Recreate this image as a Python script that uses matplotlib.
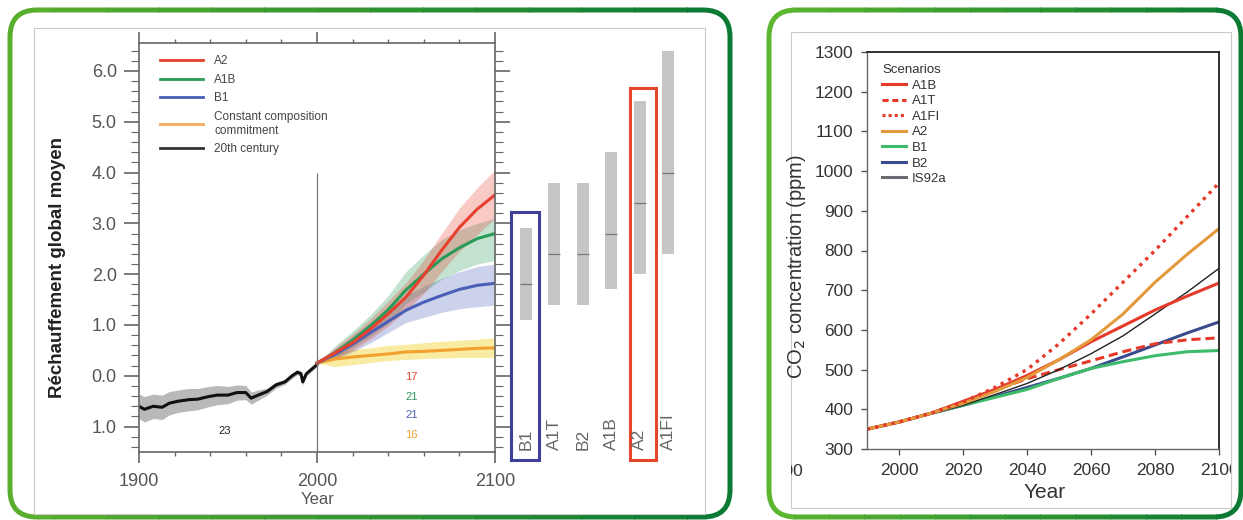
import numpy as np
import matplotlib.pyplot as plt
import matplotlib.transforms as mtransforms
from matplotlib.patches import FancyBboxPatch, Rectangle
from matplotlib.lines import Line2D

plt.rcParams['font.family'] = ['Liberation Sans', 'DejaVu Sans']

W, H = 1243, 520


def box(x0, y0, x1, y1):
    # pixel box (top-left origin) -> figure fraction
    return [x0 / W, 1 - y1 / H, (x1 - x0) / W, (y1 - y0) / H]


# ---------------- left panel: global mean warming ----------------
hist_years = [1900, 1903, 1908, 1913, 1917, 1922, 1928, 1933, 1939, 1944, 1950,
              1955, 1960, 1963, 1967, 1972, 1977, 1982, 1986, 1989, 1991, 1992,
              1994, 2000]
hist_mean = [-0.60, -0.66, -0.60, -0.62, -0.54, -0.50, -0.47, -0.46, -0.41, -0.38, -0.38,
             -0.33, -0.33, -0.44, -0.38, -0.31, -0.18, -0.12, 0.00, 0.07, 0.04, -0.12,
             0.04, 0.22]
hist_spread = [0.24, 0.25, 0.24, 0.24, 0.23, 0.22, 0.22, 0.21, 0.2, 0.19, 0.17,
               0.15, 0.14, 0.12, 0.1, 0.07, 0.06, 0.05, 0.05, 0.05, 0.05, 0.06,
               0.05, 0.04]

proj_years = [2000, 2010, 2020, 2030, 2040, 2050, 2060, 2070, 2080, 2090, 2100]
a2_mean = [0.25, 0.45, 0.65, 0.92, 1.22, 1.55, 1.98, 2.47, 2.92, 3.28, 3.56]
a2_lo = [0.25, 0.35, 0.50, 0.72, 0.98, 1.28, 1.62, 2.05, 2.45, 2.78, 3.10]
a2_hi = [0.25, 0.55, 0.82, 1.12, 1.47, 1.83, 2.28, 2.80, 3.30, 3.70, 4.05]
a1b_mean = [0.25, 0.45, 0.70, 0.98, 1.30, 1.69, 2.00, 2.30, 2.52, 2.70, 2.80]
a1b_lo = [0.25, 0.35, 0.55, 0.78, 1.03, 1.42, 1.65, 1.90, 2.07, 2.20, 2.27]
a1b_hi = [0.25, 0.58, 0.88, 1.20, 1.58, 2.05, 2.38, 2.68, 2.87, 3.00, 3.10]
b1_mean = [0.25, 0.42, 0.62, 0.85, 1.07, 1.29, 1.45, 1.58, 1.70, 1.78, 1.82]
b1_lo = [0.25, 0.32, 0.47, 0.65, 0.85, 1.05, 1.15, 1.25, 1.32, 1.36, 1.39]
b1_hi = [0.25, 0.52, 0.78, 1.05, 1.30, 1.58, 1.76, 1.92, 2.05, 2.15, 2.20]
cc_mean = [0.25, 0.33, 0.37, 0.40, 0.43, 0.47, 0.48, 0.50, 0.52, 0.54, 0.55]
cc_lo = [0.25, 0.18, 0.22, 0.26, 0.30, 0.32, 0.34, 0.35, 0.36, 0.36, 0.36]
cc_hi = [0.25, 0.45, 0.52, 0.55, 0.60, 0.62, 0.65, 0.68, 0.70, 0.72, 0.75]

model_counts = ['17', '21', '21', '16']
hist_count = '23'

bar_names = ['B1', 'A1T', 'B2', 'A1B', 'A2', 'A1FI']
bar_low = [1.1, 1.4, 1.4, 1.7, 2.0, 2.4]
bar_high = [2.9, 3.8, 3.8, 4.4, 5.4, 6.4]
bar_best = [1.8, 2.4, 2.4, 2.8, 3.4, 4.0]

# ---------------- right panel: CO2 concentration ----------------
co2_years = [1990, 2000, 2010, 2020, 2030, 2040, 2050, 2060, 2070, 2080, 2090, 2100]
co2_a1b = [350, 368, 390, 420, 450, 485, 525, 570, 610, 650, 685, 718]
co2_a1t = [350, 368, 390, 418, 448, 477, 500, 522, 545, 565, 575, 580]
co2_a1fi = [350, 368, 390, 418, 455, 500, 565, 640, 720, 800, 885, 970]
co2_a2 = [350, 368, 390, 415, 445, 480, 525, 575, 640, 720, 790, 855]
co2_b1 = [350, 368, 390, 410, 430, 450, 478, 503, 520, 535, 545, 548]
co2_b2 = [350, 368, 390, 410, 432, 455, 478, 503, 532, 562, 592, 620]
co2_is92a = [350, 368, 388, 410, 437, 465, 500, 540, 585, 640, 695, 755]

RED = '#e8402f'
GREEN = '#2a9a58'
BLUE = '#4a5fb8'
ORANGE = '#f2a030'
GREY_TXT = '#555555'

fig = plt.figure(figsize=(W / 100, H / 100), dpi=100)
ident = mtransforms.IdentityTransform()


def green_frame(x0, y0, x1, y1, light, dark, n=14):
    # rounded frame with a left->right green gradient
    c0 = np.array(plt.matplotlib.colors.to_rgb(light))
    c1 = np.array(plt.matplotlib.colors.to_rgb(dark))
    for k in range(n):
        t = k / (n - 1)
        fr = FancyBboxPatch((x0, H - y1), x1 - x0, y1 - y0,
                            boxstyle='round,pad=0,rounding_size=27',
                            fill=False, lw=3.6, ec=tuple(c0 * (1 - t) + c1 * t),
                            transform=ident)
        sx = x0 - 10 + (x1 - x0 + 20) * k / n
        clip = Rectangle((sx, 0), (x1 - x0 + 20) / n + 1, H, transform=ident)
        fr.set_clip_path(clip)
        fig.add_artist(fr)


green_frame(10, 10, 730, 517, '#5aae2e', '#0b7a35')
green_frame(769, 10, 1241, 517, '#5cb630', '#0c7a32')

inner_left = Rectangle((34, H - 514), 705 - 34, 514 - 28, fill=False, ec='#cacaca',
                       lw=0.8, transform=ident)
inner_right = Rectangle((791, H - 508), 1231 - 791, 508 - 32, fill=False, ec='#cacaca',
                        lw=0.8, transform=ident)
fig.add_artist(inner_left)
fig.add_artist(inner_right)

# ---------- left main axes ----------
ax = fig.add_axes(box(139, 43, 495, 452))
ax.set_xlim(1900, 2100)
ax.set_ylim(-1.5, 6.55)

ax.fill_between(hist_years, np.array(hist_mean) - np.array(hist_spread),
                np.array(hist_mean) + np.array(hist_spread), color='#a8a8a8', lw=0, alpha=0.8)
ax.plot(hist_years, hist_mean, color='#111111', lw=2.2)

ax.fill_between(proj_years, cc_lo, cc_hi, color='#f5dc55', lw=0, alpha=0.55)
ax.fill_between(proj_years, b1_lo, b1_hi, color=BLUE, lw=0, alpha=0.28)
ax.fill_between(proj_years, a1b_lo, a1b_hi, color=GREEN, lw=0, alpha=0.28)
ax.fill_between(proj_years, a2_lo, a2_hi, color=RED, lw=0, alpha=0.28)
ax.plot(proj_years, cc_mean, color=ORANGE, lw=2.2)
ax.plot(proj_years, b1_mean, color=BLUE, lw=2.2)
ax.plot(proj_years, a1b_mean, color=GREEN, lw=2.2)
ax.plot(proj_years, a2_mean, color=RED, lw=2.2)

ax.vlines(2000, -1.5, 4.0, color='#777777', lw=0.9)

for lbl, col, yv in zip(model_counts, [RED, GREEN, BLUE, ORANGE], [-0.02, -0.41, -0.78, -1.16]):
    ax.text(2053, yv, lbl, color=col, fontsize=8, ha='center', va='center')
ax.text(1948, -1.08, hist_count, color='#222222', fontsize=8, ha='center', va='center')

ax.set_xticks([1900, 2000, 2100])
ax.set_xticks(np.arange(1900, 2101, 20), minor=True)
ax.set_yticks(np.arange(-1, 7, 1))
ax.set_yticklabels(['1.0', '0.0', '1.0', '2.0', '3.0', '4.0', '5.0', '6.0'])
ax.set_yticks(np.arange(-1.4, 6.5, 0.2), minor=True)
ax.tick_params(axis='x', which='both', top=True, bottom=True, direction='out',
               colors='#666666', labelcolor=GREY_TXT, labelsize=13, pad=7)
ax.tick_params(axis='x', which='major', length=8, width=1.2)
ax.tick_params(axis='x', which='minor', length=3, width=1)
ax.tick_params(axis='y', which='both', left=True, right=True, direction='out',
               colors='#666666', labelcolor=GREY_TXT, labelsize=13, pad=5)
ax.tick_params(axis='y', which='major', length=11, width=1.2)
ax.tick_params(axis='y', which='minor', length=6, width=0.8)
for s in ax.spines.values():
    s.set_color('#666666')
    s.set_linewidth(1.2)

handles = [Line2D([], [], color=RED, lw=2),
           Line2D([], [], color=GREEN, lw=2),
           Line2D([], [], color=BLUE, lw=2),
           Line2D([], [], color='#f5a860', lw=2),
           Line2D([], [], color='#333333', lw=2)]
ax.legend(handles, ['A2', 'A1B', 'B1', 'Constant composition\ncommitment', '20th century'],
          loc='upper left', bbox_to_anchor=(0.059, 0.97), frameon=False, fontsize=8.5,
          handlelength=3.6, handletextpad=1.0, labelspacing=0.55, borderpad=0,
          borderaxespad=0, labelcolor='#444444')

fig.text(57 / W, 1 - 268 / H, 'Réchauffement global moyen', rotation=90, ha='center',
         va='center', fontsize=13.5, fontweight='bold', color='#222222')
fig.text(318 / W, 1 - 500 / H, 'Year', ha='center', va='center', fontsize=12, color=GREY_TXT)

# ---------- left bars (likely ranges) ----------
axb = fig.add_axes(box(495, 43, 705, 452), sharey=ax)
axb.set_xlim(-1.09, 6.30)
axb.axis('off')
idx = np.arange(len(bar_names))
axb.bar(idx, np.array(bar_high) - np.array(bar_low), bottom=bar_low, width=0.42,
        color='#c6c6c6', lw=0)
axb.hlines(bar_best, idx - 0.21, idx + 0.21, color='#777777', lw=0.9)
for i, name in enumerate(bar_names):
    axb.text(i, -1.47, name, rotation=90, ha='center', va='bottom', fontsize=12.5,
             color='#666666')
axb.add_patch(Rectangle((-0.53, -1.65), 0.99, 3.22 + 1.65, fill=False, ec='#3d3f99',
                        lw=2.2, clip_on=False))
axb.add_patch(Rectangle((3.66, -1.65), 0.92, 5.67 + 1.65, fill=False, ec='#e5452a',
                        lw=2.2, clip_on=False))

# ---------- right axes ----------
ax2 = fig.add_axes(box(867, 52, 1219, 449))
ax2.set_xlim(1990, 2100)
ax2.set_ylim(300, 1300)

ax2.plot(co2_years, co2_b2, color='#3a4a8c', lw=2.2)
ax2.plot(co2_years, co2_b1, color='#3dba6a', lw=2.2)
ax2.plot(co2_years, co2_a1t, color='#e5392a', lw=2.2, ls=(0, (3, 1.6)))
ax2.plot(co2_years, co2_is92a, color='#222222', lw=1.0)
ax2.plot(co2_years, co2_a1b, color='#e5392a', lw=2.2)
ax2.plot(co2_years, co2_a2, color='#e39a3c', lw=2.2)
ax2.plot(co2_years, co2_a1fi, color='#e5392a', lw=2.4, ls=(0, (1, 1.5)))

h2 = [Line2D([], [], color='#e5392a', lw=2.2),
      Line2D([], [], color='#e5392a', lw=2.2, ls=(0, (2, 1.2))),
      Line2D([], [], color='#e5392a', lw=2.2, ls=(0, (1, 1))),
      Line2D([], [], color='#e39a3c', lw=2.2),
      Line2D([], [], color='#3dba6a', lw=2.2),
      Line2D([], [], color='#3a4a8c', lw=2.2),
      Line2D([], [], color='#6a6a70', lw=2.2)]
leg2 = ax2.legend(h2, ['A1B', 'A1T', 'A1FI', 'A2', 'B1', 'B2', 'IS92a'], title='Scenarios',
                  loc='upper left', bbox_to_anchor=(0.043, 0.969), frameon=False,
                  fontsize=9.5, title_fontsize=9.5, handlelength=1.8, handletextpad=0.45,
                  labelspacing=0.25, borderpad=0, borderaxespad=0, alignment='left',
                  labelcolor='#333333')
leg2.get_title().set_color('#333333')

ax2.set_yticks(np.arange(300, 1301, 100))
ax2.set_xticks(np.arange(2000, 2101, 20))
ax2.tick_params(axis='both', direction='out', length=4, width=1, colors='#555555',
                labelcolor='#333333', labelsize=12.5, pad=6)
for name in ['top', 'right']:
    ax2.spines[name].set_color('#222222')
    ax2.spines[name].set_linewidth(1.3)
for name in ['left', 'bottom']:
    ax2.spines[name].set_color('#666666')
    ax2.spines[name].set_linewidth(1.0)
for lbl in ax2.get_xticklabels():
    lbl.set_clip_path(inner_right)

cut = fig.text(803 / W, 1 - 472 / H, '1900', ha='right', va='center', fontsize=12.5,
               color='#333333')
cut.set_clip_path(inner_right)

fig.text(797 / W, 1 - 266 / H, 'CO$_2$ concentration (ppm)', rotation=90, ha='center',
         va='center', fontsize=14.5, color='#333333')
fig.text(1045 / W, 1 - 493 / H, 'Year', ha='center', va='center', fontsize=15,
         color='#333333')

fig.savefig('out.png', dpi=100)
